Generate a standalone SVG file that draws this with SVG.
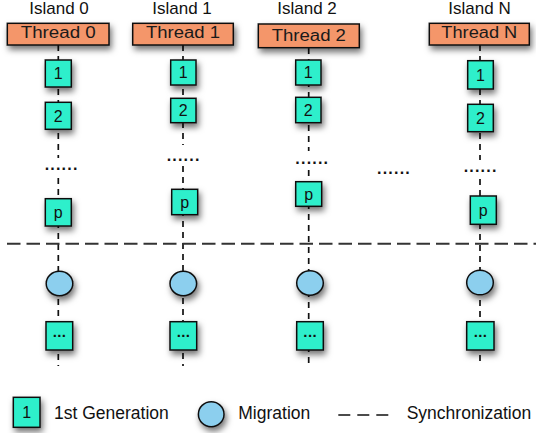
<svg xmlns="http://www.w3.org/2000/svg" width="536" height="433" viewBox="0 0 536 433">
  <defs>
    <filter id="shadow" x="-40%" y="-40%" width="180%" height="200%">
      <feDropShadow dx="2" dy="4" stdDeviation="3" flood-color="#000" flood-opacity="0.55"/>
    </filter>
  </defs>
  <style>
    text { font-family: "Liberation Sans", Arial, Helvetica, sans-serif; fill: #111; }
    .island { font-size: 17px; text-anchor: middle; }
    .thread rect { fill: #F4966B; stroke: #111; stroke-width: 1.5; filter: url(#shadow); }
    .thread text { font-size: 16px; text-anchor: middle; fill: #1a1a1a; }
    .gen rect { fill: #2EEFCB; stroke: #111; stroke-width: 1.5; filter: url(#shadow); }
    .gen text { font-size: 16px; text-anchor: middle; }
    .gen text.more { font-size: 15px; font-weight: bold; letter-spacing: 0.4px; }
    .mig ellipse { fill: #8CCFEE; stroke: #111; stroke-width: 1.5; filter: url(#shadow); }
    .dots { font-size: 16px; font-weight: bold; text-anchor: middle; letter-spacing: 1.2px; }
    .vline { stroke: #111; stroke-width: 1.7; stroke-dasharray: 6 5; fill: none; }
    .sync { stroke: #333; stroke-width: 2; stroke-dasharray: 13.5 6; fill: none; }
    .legend { font-size: 17.5px; }
  </style>

  <!-- island titles -->
  <g id="titles">
    <text class="island" x="59" y="13.5">Island 0</text>
    <text class="island" x="182" y="13.5">Island 1</text>
    <text class="island" x="307" y="13.5">Island 2</text>
    <text class="island" x="479.5" y="13.5">Island N</text>
  </g>

  <!-- dashed lifelines and the synchronization barrier -->
  <g id="connectors">
    <path class="vline" d="M58.3 45 V158 M58.3 178 V366"/>
    <path class="vline" d="M183 45 V145 M183 166 V366"/>
    <path class="vline" d="M308.7 48 V151 M308.7 170 V366"/>
    <path class="vline" d="M480 45 V160 M480 179 V366"/>
    <line class="sync" x1="7" y1="243.7" x2="536" y2="243.7"/>
  </g>

  <!-- thread headers -->
  <g id="thread0" class="thread">
    <rect x="7.3" y="23.3" width="101.7" height="21.7"/>
    <text x="58.2" y="37.5" textLength="75" lengthAdjust="spacingAndGlyphs">Thread 0</text>
  </g>
  <g id="thread1" class="thread">
    <rect x="132.7" y="23.3" width="100.6" height="21.7"/>
    <text x="183" y="37.5" textLength="74" lengthAdjust="spacingAndGlyphs">Thread 1</text>
  </g>
  <g id="thread2" class="thread">
    <rect x="258.3" y="24" width="101" height="23.7"/>
    <text x="308.8" y="40.5" textLength="74.3" lengthAdjust="spacingAndGlyphs">Thread 2</text>
  </g>
  <g id="threadN" class="thread">
    <rect x="429.3" y="23.3" width="100" height="21.7"/>
    <text x="479.3" y="37.8" textLength="76" lengthAdjust="spacingAndGlyphs">Thread N</text>
  </g>

  <!-- island 0 -->
  <g id="i0-g1" class="gen"><rect x="45.3" y="60" width="26" height="27"/><text x="58.3" y="79">1</text></g>
  <g id="i0-g2" class="gen"><rect x="45.3" y="102.3" width="26" height="27"/><text x="58.3" y="121.5">2</text></g>
  <g id="i0-dots"><text class="dots" x="61.6" y="170.3">......</text></g>
  <g id="i0-gp" class="gen"><rect x="45.3" y="198.7" width="26" height="27.3"/><text x="58.3" y="218">p</text></g>
  <g id="i0-mig" class="mig"><ellipse cx="59.5" cy="283.5" rx="13.3" ry="12.2"/></g>
  <g id="i0-gn" class="gen"><rect x="46" y="321.7" width="26.7" height="28.3"/><text class="more" x="59.5" y="336.5">...</text></g>

  <!-- island 1 -->
  <g id="i1-g1" class="gen"><rect x="170.7" y="60" width="25.3" height="25"/><text x="183.3" y="78">1</text></g>
  <g id="i1-g2" class="gen"><rect x="170.7" y="98.3" width="25.3" height="24.4"/><text x="183.3" y="116.3">2</text></g>
  <g id="i1-dots"><text class="dots" x="183.6" y="161.3">......</text></g>
  <g id="i1-gp" class="gen"><rect x="171.7" y="189.3" width="26" height="25.4"/><text x="184.7" y="207.5">p</text></g>
  <g id="i1-mig" class="mig"><ellipse cx="183.3" cy="283.5" rx="13.3" ry="12.2"/></g>
  <g id="i1-gn" class="gen"><rect x="170" y="321.7" width="26.7" height="28.3"/><text class="more" x="183.5" y="336.5">...</text></g>

  <!-- island 2 -->
  <g id="i2-g1" class="gen"><rect x="295.7" y="60" width="25.3" height="25"/><text x="308.3" y="78">1</text></g>
  <g id="i2-g2" class="gen"><rect x="295.7" y="97.3" width="25.3" height="25.4"/><text x="308.3" y="115.8">2</text></g>
  <g id="i2-dots"><text class="dots" x="312.3" y="164">......</text></g>
  <g id="i2-gp" class="gen"><rect x="295.7" y="181.7" width="26" height="24.6"/><text x="308.7" y="199.5">p</text></g>
  <g id="i2-mig" class="mig"><ellipse cx="310" cy="283" rx="13.3" ry="12.2"/></g>
  <g id="i2-gn" class="gen"><rect x="296.7" y="321.7" width="26.6" height="28.3"/><text class="more" x="310.2" y="336.5">...</text></g>

  <!-- islands in between -->
  <g id="between-dots"><text class="dots" x="394" y="174">......</text></g>

  <!-- island N -->
  <g id="iN-g1" class="gen"><rect x="467.7" y="60.7" width="25.6" height="28.3"/><text x="480.5" y="80.5">1</text></g>
  <g id="iN-g2" class="gen"><rect x="467.7" y="104.3" width="25.6" height="27.4"/><text x="480.5" y="123.5">2</text></g>
  <g id="iN-dots"><text class="dots" x="480.6" y="172">......</text></g>
  <g id="iN-gp" class="gen"><rect x="470.3" y="196" width="26" height="28.3"/><text x="483.3" y="215.5">p</text></g>
  <g id="iN-mig" class="mig"><ellipse cx="480" cy="282.5" rx="13.3" ry="12.3"/></g>
  <g id="iN-gn" class="gen"><rect x="466.7" y="321.7" width="27.3" height="28.3"/><text class="more" x="480.6" y="336.5">...</text></g>

  <!-- legend -->
  <g id="legend-generation">
    <g class="gen"><rect x="13.3" y="397.3" width="26.7" height="30"/><text x="26.7" y="418">1</text></g>
    <text class="legend" x="54" y="419.3">1st Generation</text>
  </g>
  <g id="legend-migration">
    <g class="mig"><ellipse cx="211.2" cy="414.2" rx="12.8" ry="12.5"/></g>
    <text class="legend" x="238.3" y="419.3">Migration</text>
  </g>
  <g id="legend-sync">
    <line x1="338.3" y1="415" x2="388.3" y2="415" stroke="#111" stroke-width="1.5" stroke-dasharray="12 7"/>
    <text class="legend" x="406.7" y="419.3">Synchronization</text>
  </g>
</svg>
